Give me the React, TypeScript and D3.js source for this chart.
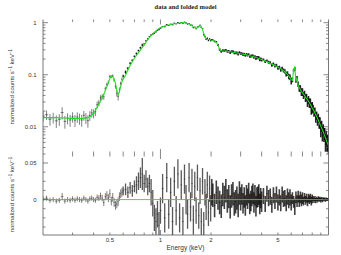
import React from 'react';
import * as d3 from 'd3';

// ---------- data ----------
const energyLow = [0.2,0.21,0.22,0.23,0.24,0.25,0.26,0.27,0.28,0.29,0.3,0.31,0.32,0.33,0.34,0.35,0.36,0.37,0.38,0.39,0.4,0.41,0.42,0.43,0.44,0.45,0.46,0.47,0.48,0.49,0.5];
const modelLow = [0.015,0.015,0.015,0.015,0.015,0.0149,0.0148,0.0147,0.0146,0.0145,0.0145,0.0144,0.0144,0.0144,0.0145,0.0146,0.0148,0.0151,0.0155,0.0165,0.018,0.0205,0.0235,0.027,0.031,0.036,0.042,0.05,0.059,0.07,0.085];
const residLow = [0.001,0.002,-0.001,0,-0.002,-0.001,0.004,-0.002,0,-0.001,0.001,-0.001,0.001,0,-0.001,0.002,0,-0.002,0.001,0.002,0,-0.001,0.003,0.002,0.005,0.002,-0.004,0.004,0.006,0.002,0.008];
const errLow = [0.0035,0.0035,0.0035,0.0035,0.0035,0.0035,0.005,0.0035,0.0035,0.0035,0.0035,0.0035,0.0035,0.0035,0.0035,0.0035,0.0035,0.0035,0.0035,0.0035,0.0035,0.0035,0.004,0.004,0.0045,0.0045,0.005,0.005,0.0055,0.0055,0.006];

const energyMid = [0.51,0.52,0.53,0.54,0.55,0.56,0.57,0.58,0.59,0.6,0.62,0.64,0.66,0.68,0.7,0.72,0.74,0.76,0.78,0.8,0.82,0.84,0.86,0.88,0.9,0.92,0.94,0.96,0.98,1.0];
const modelMid = [0.094,0.092,0.083,0.068,0.05,0.041,0.047,0.06,0.072,0.082,0.098,0.123,0.15,0.177,0.207,0.235,0.265,0.3,0.335,0.37,0.42,0.47,0.52,0.57,0.61,0.655,0.695,0.735,0.77,0.8];
const residMid = [-0.002,0.003,-0.004,-0.008,-0.006,-0.003,0.004,0.008,0.01,0.012,0.014,0.01,0.016,0.012,0.018,0.02,0.025,0.03,0.035,0.022,0.028,0.018,0.022,0.01,-0.005,-0.025,-0.03,-0.02,-0.035,-0.015];
const errMid = [0.006,0.006,0.006,0.006,0.006,0.006,0.006,0.006,0.006,0.006,0.008,0.008,0.008,0.008,0.008,0.012,0.012,0.014,0.022,0.012,0.012,0.012,0.012,0.018,0.018,0.018,0.018,0.018,0.018,0.018];

const energyHigh1 = [1.03,1.06,1.09,1.12,1.15,1.18,1.21,1.24,1.27,1.3,1.33,1.36,1.39,1.42,1.45,1.48,1.51,1.54,1.57,1.6,1.63,1.66,1.69,1.72,1.75,1.78,1.81,1.84,1.87,1.9,1.93,1.96,1.99,2.02];
const modelHigh1 = [0.83,0.86,0.885,0.905,0.925,0.94,0.955,0.965,0.975,0.985,0.99,1.0,0.995,0.985,0.965,0.94,0.91,0.87,0.83,0.8,0.78,0.8,0.86,0.88,0.84,0.74,0.62,0.53,0.49,0.48,0.475,0.47,0.465,0.46];
const residHigh1 = [0.015,-0.025,0.03,-0.02,0.01,-0.03,0.025,-0.015,0.035,-0.025,0.02,-0.03,0.028,0,-0.02,0.03,-0.01,0.022,-0.028,0.018,-0.015,0.03,-0.022,0.012,-0.03,0.025,-0.035,0.01,-0.01,0.02,-0.018,0.015,-0.012,0.01];
const errHigh1 = [0.02,0.02,0.02,0.02,0.02,0.02,0.02,0.02,0.02,0.02,0.02,0.02,0.02,0.02,0.02,0.02,0.02,0.02,0.02,0.02,0.018,0.018,0.018,0.018,0.018,0.018,0.018,0.018,0.018,0.018,0.018,0.018,0.018,0.018];

const energyHigh2 = [2.05,2.1,2.15,2.2,2.25,2.3,2.35,2.4,2.45,2.5,2.55,2.6,2.65,2.7,2.75,2.8,2.85,2.9,2.95,3.0,3.05,3.1,3.15,3.2,3.25,3.3,3.35,3.4,3.45,3.5,3.55,3.6,3.65,3.7,3.75,3.8,3.85,3.9,3.95,4.0,
  4.1,4.2,4.3,4.4,4.5,4.6,4.7,4.8,4.9,5.0,5.1,5.2,5.3,5.4,5.5,5.6,5.7,5.8,5.9,6.0,
  6.1,6.2,6.3,6.4,6.5,6.6,6.7,6.8,6.9,7.0,7.1,7.2,7.3,7.4,7.5,7.6,7.7,7.8,7.9,8.0,
  8.1,8.2,8.3,8.4,8.5,8.6,8.7,8.8,8.9,9.0,9.1,9.2,9.3,9.4,9.5,9.6,9.7,9.8,9.9,10.0];
const modelHigh2 = [0.455,0.445,0.42,0.37,0.31,0.29,0.285,0.285,0.285,0.282,0.28,0.277,0.274,0.271,0.268,0.265,0.262,0.259,0.256,0.253,0.25,0.248,0.246,0.244,0.241,0.238,0.235,0.232,0.229,0.226,0.223,0.22,0.217,0.214,0.211,0.208,0.205,0.202,0.199,0.196,
  0.19,0.184,0.178,0.172,0.166,0.16,0.155,0.15,0.145,0.14,0.135,0.13,0.125,0.12,0.114,0.108,0.101,0.094,0.087,0.08,
  0.078,0.125,0.14,0.075,0.088,0.062,0.057,0.052,0.048,0.045,0.042,0.04,0.037,0.035,0.033,0.031,0.029,0.027,0.025,0.023,
  0.0215,0.02,0.0185,0.017,0.0157,0.0145,0.0133,0.0122,0.0112,0.0103,0.0095,0.0087,0.008,0.0073,0.0067,0.0061,0.0056,0.0051,0.0047,0.0043];
const residHigh2 = [0.006,-0.008,0.01,0.002,-0.004,-0.009,0.007,0.003,0.012,-0.002,0.004,-0.01,0.005,0.008,-0.006,-0.003,0.002,-0.008,0.009,0.001,
  0.007,-0.005,0.003,-0.008,0.006,0.001,0.009,-0.006,-0.002,0.005,0.008,-0.004,0.006,-0.009,0.003,0.004,0.007,-0.006,0.002,-0.003,
  0.005,-0.006,0.008,0.002,0.004,-0.007,0.006,-0.002,0.007,-0.004,0.003,-0.005,0.007,0.001,0.002,-0.005,0.004,-0.001,0.003,-0.004,
  0.002,-0.003,-0.01,0.003,-0.002,0.004,-0.002,0.003,-0.001,0.002,-0.002,0.003,-0.001,0.002,-0.003,0.002,0,0.002,-0.002,0.001,
  0.0015,-0.001,0.0015,-0.0015,0.001,-0.001,0.0015,0,0.001,-0.001,0.001,-0.001,0.001,0,0.0008,-0.0008,0.0008,0,0.0005,0];
const errHigh2 = [0.016,0.016,0.016,0.016,0.016,0.016,0.016,0.016,0.016,0.016,0.016,0.016,0.016,0.016,0.016,0.016,0.016,0.016,0.016,0.016,
  0.014,0.014,0.014,0.014,0.014,0.014,0.014,0.014,0.014,0.014,0.014,0.014,0.014,0.014,0.014,0.014,0.014,0.014,0.014,0.014,
  0.011,0.011,0.011,0.011,0.011,0.011,0.011,0.011,0.011,0.011,0.011,0.011,0.011,0.011,0.011,0.011,0.011,0.011,0.011,0.011,
  0.008,0.008,0.011,0.008,0.008,0.008,0.008,0.008,0.008,0.008,0.006,0.006,0.006,0.006,0.006,0.006,0.006,0.006,0.006,0.006,
  0.0035,0.0035,0.0035,0.0035,0.003,0.003,0.003,0.003,0.003,0.003,0.0025,0.0025,0.0022,0.0022,0.002,0.002,0.002,0.0018,0.0018,0.0018];

const xTickLabels = [0.5, 1, 2, 5];
const yTopTickLabels = [0.01, 0.1, 1];
const yResTickLabels = [0, 0.05];

const energy = [...energyLow, ...energyMid, ...energyHigh1, ...energyHigh2];
const model = [...modelLow, ...modelMid, ...modelHigh1, ...modelHigh2];
const resid = [...residLow, ...residMid, ...residHigh1, ...residHigh2];
const err = [...errLow, ...errMid, ...errHigh1, ...errHigh2];

// ---------- layout ----------
const X0 = 43, X1 = 328.5, TOP = 19.5, MID = 154, BOT = 235;
const GREEN = '#22e022';
const AXIS = '#555';

const barWidth = (e: number) => (e < 0.6 ? 1.0 : e < 2 ? 1.3 : 1.6);
const barOpacity = (e: number) => (e < 0.6 ? 0.5 : e < 2 ? 0.65 : 0.75);

export default function App() {
  const x = d3.scaleLog().domain([0.2, 10]).range([X0, X1]);
  const yTop = d3.scaleLog().domain([0.003, 1.15]).range([MID, TOP]);
  const yRes = d3.scaleLinear().domain([-0.0484, 0.0623]).range([BOT, MID]);

  const n = energy.length;
  const lo = (i: number) => (i === 0 ? energy[0] * energy[0] / Math.sqrt(energy[0] * energy[1]) : Math.sqrt(energy[i - 1] * energy[i]));
  const hi = (i: number) => (i === n - 1 ? energy[i] * energy[i] / Math.sqrt(energy[i - 1] * energy[i]) : Math.sqrt(energy[i] * energy[i + 1]));

  const modelLine = d3.line<number>().x((_, i) => x(energy[i])).y((d) => yTop(d))(model) || '';

  // ticks
  const xMinor: number[] = [];
  [0.1, 1].forEach((dec) => { for (let k = 2; k <= 9; k++) { const v = dec * k; if (v > 0.2 && v < 10) xMinor.push(v); } });
  const xMajor = [1];
  const yMinorTop: number[] = [];
  [0.001, 0.01, 0.1].forEach((dec) => { for (let k = 2; k <= 9; k++) { const v = dec * k; if (v >= 0.003 && v < 1.15) yMinorTop.push(v); } });
  const yMajorTop = [0.01, 0.1, 1];
  const yResMinor = [-0.0375, -0.025, -0.0125, 0.0125, 0.025, 0.0375];
  const yResMajor = [0, 0.05];

  const tick = (key: string, x1: number, y1: number, x2: number, y2: number) => (
    <line key={key} x1={x1} y1={y1} x2={x2} y2={y2} stroke={AXIS} strokeWidth={0.7} />
  );

  const ticks: JSX.Element[] = [];
  xMinor.forEach((v, i) => {
    const px = x(v);
    ticks.push(tick('xt' + i, px, TOP, px, TOP + 2.5));
    ticks.push(tick('xm1' + i, px, MID, px, MID - 2.5));
    ticks.push(tick('xm2' + i, px, MID, px, MID + 2.5));
    ticks.push(tick('xb' + i, px, BOT, px, BOT - 2.5));
  });
  xMajor.forEach((v, i) => {
    const px = x(v);
    ticks.push(tick('Xt' + i, px, TOP, px, TOP + 5));
    ticks.push(tick('Xm1' + i, px, MID, px, MID - 5));
    ticks.push(tick('Xm2' + i, px, MID, px, MID + 5));
    ticks.push(tick('Xb' + i, px, BOT, px, BOT - 5));
  });
  yMinorTop.forEach((v, i) => {
    const py = yTop(v);
    ticks.push(tick('yl' + i, X0, py, X0 + 2.5, py));
    ticks.push(tick('yr' + i, X1, py, X1 - 2.5, py));
  });
  yMajorTop.forEach((v, i) => {
    const py = yTop(v);
    ticks.push(tick('Yl' + i, X0, py, X0 + 5, py));
    ticks.push(tick('Yr' + i, X1, py, X1 - 5, py));
  });
  yResMinor.forEach((v, i) => {
    const py = yRes(v);
    ticks.push(tick('rl' + i, X0, py, X0 + 2.5, py));
    ticks.push(tick('rr' + i, X1, py, X1 - 2.5, py));
  });
  yResMajor.forEach((v, i) => {
    const py = yRes(v);
    ticks.push(tick('Rl' + i, X0, py, X0 + 5, py));
    ticks.push(tick('Rr' + i, X1, py, X1 - 5, py));
  });

  const fmt = (v: number) => String(v);
  const labelFont = { fontFamily: 'Liberation Sans, Arial, sans-serif', fontSize: 6, fill: '#333' } as const;

  return (
    <svg width={341} height={255} style={{ position: 'absolute', left: 0, top: 0, background: '#fff' }}>
      <defs>
        <clipPath id="cTop"><rect x={X0} y={TOP} width={X1 - X0} height={MID - TOP} /></clipPath>
        <clipPath id="cRes"><rect x={X0} y={MID} width={X1 - X0} height={BOT - MID} /></clipPath>
      </defs>
      <rect x={0} y={0} width={341} height={255} fill="#fff" />
      <text x={185.5} y={8.5} textAnchor="middle" style={{ fontFamily: 'Liberation Serif, Times New Roman, serif', fontWeight: 'bold', fontSize: 6.5, fill: '#222' }}>data and folded model</text>

      {/* top panel data */}
      <g clipPath="url(#cTop)" stroke="#000">
        {energy.map((e, i) => {
          const v = model[i] + resid[i];
          const px = x(e);
          return (
            <g key={'d' + i}>
              <line x1={px} x2={px} y1={yTop(v + err[i])} y2={yTop(Math.max(v - err[i], 1e-4))} strokeWidth={barWidth(e)} strokeOpacity={e < 0.6 ? 0.5 : 0.85} />
              <line x1={x(lo(i))} x2={x(hi(i))} y1={yTop(v)} y2={yTop(v)} strokeWidth={0.8} strokeOpacity={0.6} />
            </g>
          );
        })}
      </g>
      <g clipPath="url(#cTop)">
        <path d={modelLine} fill="none" stroke={GREEN} strokeWidth={1.1} />
      </g>

      {/* residual panel */}
      <g clipPath="url(#cRes)" stroke="#000">
        {energy.map((e, i) => {
          const px = x(e);
          return (
            <g key={'r' + i}>
              <line x1={px} x2={px} y1={yRes(resid[i] + err[i])} y2={yRes(resid[i] - err[i])} strokeWidth={barWidth(e)} strokeOpacity={barOpacity(e)} />
              <line x1={x(lo(i))} x2={x(hi(i))} y1={yRes(resid[i])} y2={yRes(resid[i])} strokeWidth={0.8} strokeOpacity={0.5} />
            </g>
          );
        })}
      </g>
      <line x1={X0} x2={X1} y1={yRes(0)} y2={yRes(0)} stroke={GREEN} strokeWidth={0.9} />

      {/* frame */}
      <line x1={X0} x2={X0} y1={TOP} y2={BOT} stroke={AXIS} strokeWidth={0.8} />
      <line x1={X1} x2={X1} y1={TOP} y2={BOT} stroke={AXIS} strokeWidth={0.8} />
      <line x1={X0} x2={X1} y1={BOT} y2={BOT} stroke={AXIS} strokeWidth={0.8} />
      {ticks}

      {/* tick labels */}
      {yTopTickLabels.map((v) => (
        <text key={'lt' + v} x={36.5} y={yTop(v) + 2} textAnchor="end" style={labelFont}>{fmt(v)}</text>
      ))}
      {yResTickLabels.map((v) => (
        <text key={'lr' + v} x={36.5} y={yRes(v) + 2} textAnchor="end" style={labelFont}>{fmt(v)}</text>
      ))}
      {xTickLabels.map((v) => (
        <text key={'lx' + v} x={x(v)} y={241.5} textAnchor="middle" style={labelFont}>{fmt(v)}</text>
      ))}
      <text x={185.5} y={249.5} textAnchor="middle" style={{ ...labelFont, fontSize: 6.5 }}>Energy (keV)</text>

      {[ (TOP + MID) / 2, (MID + BOT) / 2 ].map((cy, k) => (
        <text key={'yl' + k} transform={`translate(14,${cy}) rotate(-90)`} textAnchor="middle" style={labelFont}>
          normalized counts s<tspan dy={-2} fontSize={4.5}>−1</tspan><tspan dy={2}> keV</tspan><tspan dy={-2} fontSize={4.5}>−1</tspan>
        </text>
      ))}
    </svg>
  );
}
